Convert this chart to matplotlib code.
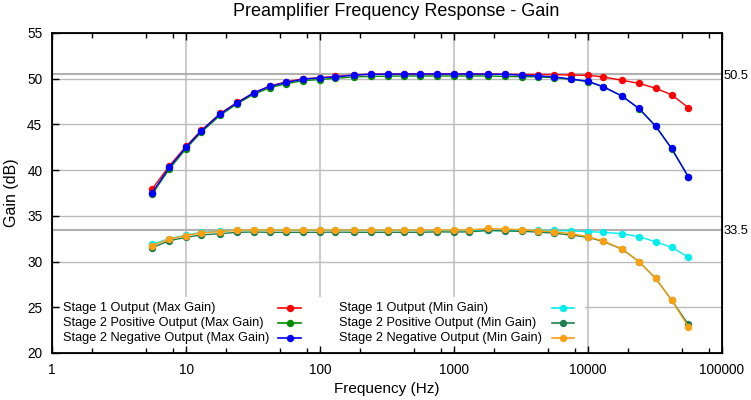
import matplotlib
matplotlib.use('Agg')
import matplotlib.pyplot as plt
from matplotlib.lines import Line2D
from matplotlib.patches import Rectangle
from matplotlib.ticker import LogLocator, FixedLocator, FixedFormatter, NullFormatter

plt.rcParams['font.family'] = ['Liberation Sans', 'DejaVu Sans']

# frequencies (Hz)
freq = [5.6, 7.5, 10, 13, 18, 24, 32, 42, 56, 75, 100, 130, 180, 240, 320, 420,
        560, 750, 1000, 1300, 1800, 2400, 3200, 4200, 5600, 7500, 10000, 13000,
        18000, 24000, 32000, 42000, 56000]

# gain (dB), max gain setting
s1_max = [37.95, 40.45, 42.6, 44.35, 46.2, 47.4, 48.45, 49.2, 49.65, 50.0, 50.1,
          50.25, 50.4, 50.5, 50.5, 50.52, 50.52, 50.52, 50.52, 50.52, 50.5, 50.48,
          50.45, 50.45, 50.45, 50.4, 50.37, 50.2, 49.82, 49.5, 48.95, 48.25, 46.85]
s2p_max = [37.4, 40.1, 42.35, 44.15, 46.0, 47.25, 48.3, 49.0, 49.45, 49.8, 49.9,
           50.05, 50.2, 50.25, 50.28, 50.3, 50.3, 50.3, 50.3, 50.3, 50.3, 50.25,
           50.22, 50.2, 50.12, 49.92, 49.68, 49.1, 48.08, 46.72, 44.8, 42.35, 39.25]
s2n_max = [37.55, 40.3, 42.5, 44.3, 46.15, 47.35, 48.45, 49.15, 49.6, 49.95, 50.1,
           50.2, 50.4, 50.48, 50.5, 50.52, 50.52, 50.52, 50.52, 50.52, 50.5, 50.48,
           50.38, 50.3, 50.2, 49.97, 49.72, 49.13, 48.1, 46.75, 44.82, 42.4, 39.3]

# gain (dB), min gain setting
s1_min = [31.9, 32.5, 32.9, 33.2, 33.3, 33.45, 33.5, 33.45, 33.45, 33.45, 33.45,
          33.45, 33.4, 33.4, 33.4, 33.4, 33.4, 33.4, 33.4, 33.4, 33.4, 33.4, 33.4,
          33.4, 33.4, 33.35, 33.27, 33.2, 33.05, 32.72, 32.17, 31.56, 30.5]
s2p_min = [31.52, 32.28, 32.65, 32.92, 33.05, 33.2, 33.23, 33.2, 33.2, 33.2, 33.2,
           33.22, 33.2, 33.2, 33.2, 33.2, 33.2, 33.25, 33.23, 33.25, 33.4, 33.35,
           33.3, 33.23, 33.1, 32.9, 32.65, 32.2, 31.35, 30.0, 28.15, 25.8, 23.15]
s2n_min = [31.75, 32.45, 32.85, 33.15, 33.28, 33.42, 33.5, 33.42, 33.45, 33.45, 33.45,
           33.47, 33.45, 33.45, 33.45, 33.45, 33.45, 33.47, 33.45, 33.47, 33.62, 33.55,
           33.5, 33.35, 33.27, 33.05, 32.72, 32.25, 31.38, 30.0, 28.17, 25.8, 22.88]

labels = ['Stage 1 Output (Max Gain)', 'Stage 2 Positive Output (Max Gain)',
          'Stage 2 Negative Output (Max Gain)', 'Stage 1 Output (Min Gain)',
          'Stage 2 Positive Output (Min Gain)', 'Stage 2 Negative Output (Min Gain)']
colors = ['#ff0000', '#008c00', '#0000ff', '#00eeee', '#1f7f4f', '#ffa010']
series = [s1_max, s2p_max, s2n_max, s1_min, s2p_min, s2n_min]

x_major = [1, 10, 100, 1000, 10000, 100000]
y_major = [20, 25, 30, 35, 40, 45, 50, 55]
ref_levels = [33.5, 50.5]

fig = plt.figure(figsize=(7.51, 4.0), dpi=100)
ax = fig.add_axes([52/751, 47/400, 670/751, 320/400])
ax.set_xscale('log')
ax.set_xlim(1, 100000)
ax.set_ylim(20, 55)

# grid drawn by hand so the key box can cover it but not the ticks
for v in x_major[1:-1]:
    ax.axvline(v, color='#cccccc', lw=1.5, zorder=0.6)
for v in y_major[1:-1]:
    ax.axhline(v, color='#bbbbbb', lw=1.0, zorder=0.6)
for v in ref_levels:
    ax.axhline(v, color='#b0b0b0', lw=1.5, zorder=0.7)

for ys, c in zip(series, colors):
    ax.plot(freq, ys, color=c, lw=1.0, marker='o', ms=4.3, zorder=3)

# key (white box, text left, sample right)
ax.add_patch(Rectangle((0.012, 0.01), 0.783, 0.165, transform=ax.transAxes,
                       facecolor='white', edgecolor='none', zorder=1.5))
rows = [0.142, 0.095, 0.046]
for i, (lab, c) in enumerate(zip(labels, colors)):
    col, row = divmod(i, 3)
    tx = [0.016, 0.429][col]
    sx = [(0.337, 0.372), (0.746, 0.779)][col]
    ax.text(tx, rows[row], lab, transform=ax.transAxes, fontsize=9.2,
            va='center', ha='left', zorder=4)
    ax.add_line(Line2D(sx, [rows[row]] * 2, transform=ax.transAxes, color=c,
                       lw=1.2, zorder=4))
    ax.add_line(Line2D([sum(sx) / 2], [rows[row]], transform=ax.transAxes,
                       color=c, marker='o', ms=4.3, zorder=4))

ax.xaxis.set_major_locator(FixedLocator(x_major))
ax.xaxis.set_major_formatter(FixedFormatter([str(v) for v in x_major]))
ax.xaxis.set_minor_locator(LogLocator(base=10, subs=[2, 5, 8], numticks=20))
ax.xaxis.set_minor_formatter(NullFormatter())
ax.set_yticks(y_major)
ax.tick_params(which='both', direction='in', top=True, right=True,
               labelsize=9.8, width=1.0, zorder=5)
ax.tick_params(which='major', length=5)
ax.tick_params(which='minor', length=3.5)
ax.tick_params(axis='x', pad=7)
ax.tick_params(axis='y', pad=7)
for s in ax.spines.values():
    s.set_linewidth(1.3)
    s.set_zorder(5)

ax2 = ax.twinx()
ax2.set_ylim(ax.get_ylim())
ax2.set_yticks(ref_levels)
ax2.set_yticklabels([str(v) for v in ref_levels])
ax2.tick_params(length=0, pad=1, labelsize=9.3)

ax.set_xlabel('Frequency (Hz)', fontsize=11, labelpad=4)
ax.set_ylabel('Gain (dB)', fontsize=11.5, labelpad=6)
fig.text(396/751, 1 - 12/400, 'Preamplifier Frequency Response - Gain',
         ha='center', va='center', fontsize=13)

fig.savefig('out.png', dpi=100)
